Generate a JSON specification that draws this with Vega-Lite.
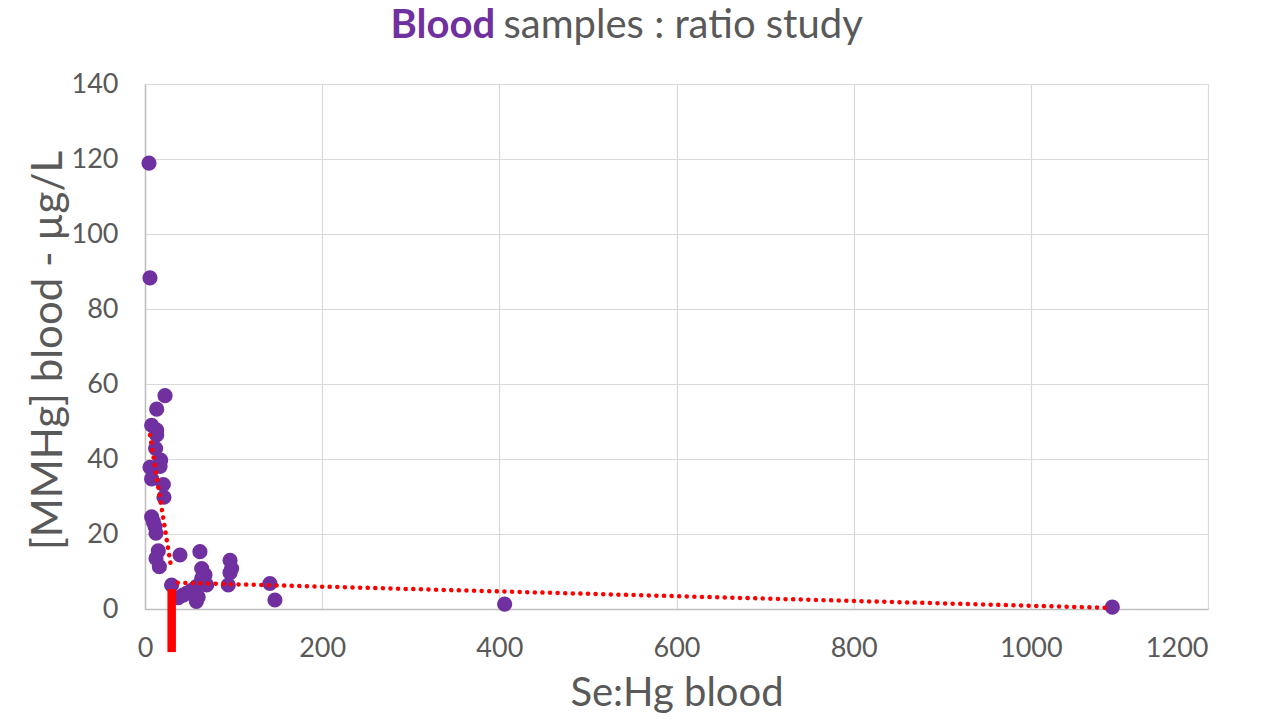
{
  "$schema": "https://vega.github.io/schema/vega-lite/v6.json",
  "width": 1063,
  "height": 525,
  "autosize": {"type": "none"},
  "padding": {"left": 145, "top": 84, "right": 58, "bottom": 112},
  "background": "white",
  "config": {
    "view": {"stroke": null},
    "axis": {"labelFont": "Lato", "titleFont": "Lato", "labelColor": "#595959", "titleColor": "#595959", "labelFontSize": 27, "titleFontSize": 40, "titleFontWeight": "normal", "gridColor": "#d9d9d9", "gridWidth": 1.2, "domainColor": "#bfbfbf", "domainWidth": 1.5, "ticks": false}
  },
  "datasets": {
    "samples": [
      {"ratio": 4.5, "mmhg": 118.9}, {"ratio": 5.6, "mmhg": 88.3}, {"ratio": 22.6, "mmhg": 56.9}, {"ratio": 13.2, "mmhg": 53.3},
      {"ratio": 7.5, "mmhg": 49.0}, {"ratio": 13.2, "mmhg": 47.7}, {"ratio": 13.2, "mmhg": 46.4}, {"ratio": 12.0, "mmhg": 42.8},
      {"ratio": 17.7, "mmhg": 39.7}, {"ratio": 17.0, "mmhg": 38.0}, {"ratio": 5.6, "mmhg": 37.8}, {"ratio": 7.5, "mmhg": 34.7},
      {"ratio": 20.7, "mmhg": 33.2}, {"ratio": 21.4, "mmhg": 29.8}, {"ratio": 7.5, "mmhg": 24.6}, {"ratio": 9.4, "mmhg": 23.3},
      {"ratio": 11.3, "mmhg": 22.0}, {"ratio": 12.4, "mmhg": 20.2}, {"ratio": 15.0, "mmhg": 15.5}, {"ratio": 12.4, "mmhg": 13.5},
      {"ratio": 16.2, "mmhg": 11.3}, {"ratio": 39.5, "mmhg": 14.4}, {"ratio": 62, "mmhg": 15.3}, {"ratio": 96, "mmhg": 13.0},
      {"ratio": 97.8, "mmhg": 10.8}, {"ratio": 96, "mmhg": 9.7}, {"ratio": 94, "mmhg": 6.4}, {"ratio": 64, "mmhg": 10.8},
      {"ratio": 67.7, "mmhg": 9.1}, {"ratio": 64, "mmhg": 8.2}, {"ratio": 30, "mmhg": 6.4}, {"ratio": 58, "mmhg": 6.0},
      {"ratio": 52.7, "mmhg": 5.0}, {"ratio": 37.6, "mmhg": 3.0}, {"ratio": 58, "mmhg": 2.0}, {"ratio": 43, "mmhg": 3.7},
      {"ratio": 54.5, "mmhg": 4.6}, {"ratio": 69.6, "mmhg": 6.4}, {"ratio": 64, "mmhg": 6.8}, {"ratio": 47, "mmhg": 4.2},
      {"ratio": 60, "mmhg": 3.2}, {"ratio": 141, "mmhg": 6.8}, {"ratio": 146.7, "mmhg": 2.4}, {"ratio": 406, "mmhg": 1.3},
      {"ratio": 1092, "mmhg": 0.5}
    ],
    "trend": [
      {"segment": "A", "ratio": 5.6, "mmhg": 46.4}, {"segment": "A", "ratio": 29.3, "mmhg": 11.4},
      {"segment": "B", "ratio": 36.9, "mmhg": 7.0}, {"segment": "B", "ratio": 1089, "mmhg": 0.3}
    ],
    "threshold": [
      {"ratio": 30.1, "top": 5.3, "bottom": -11.5}
    ]
  },
  "layer": [
    {
      "data": {"name": "samples"},
      "mark": {"type": "circle", "size": 230, "opacity": 1, "color": "#7030a0"},
      "encoding": {
        "x": {"field": "ratio", "type": "quantitative", "scale": {"domain": [0, 1200], "nice": false},
          "axis": {"orient": "bottom", "values": [0, 200, 400, 600, 800, 1000, 1200], "format": "d", "labelPadding": 47, "labelBaseline": "alphabetic", "labelFlush": false,
            "labelAlign": {"condition": {"test": "datum.value == 1200", "value": "right"}, "value": "center"},
            "title": "Se:Hg blood", "titleY": 96, "titleBaseline": "alphabetic"}},
        "y": {"field": "mmhg", "type": "quantitative", "scale": {"domain": [0, 140], "nice": false},
          "axis": {"orient": "left", "values": [0, 20, 40, 60, 80, 100, 120, 140], "labelPadding": 27, "title": "[MMHg] blood - µg/L", "titleFontSize": 42, "titleX": -84, "titleY": 266, "titleBaseline": "alphabetic"}}
      }
    },
    {
      "data": {"name": "trend"},
      "mark": {"type": "line", "color": "#ff0000", "strokeWidth": 4.5, "strokeDash": [0.1, 7.5], "strokeCap": "round"},
      "encoding": {
        "x": {"field": "ratio", "type": "quantitative",
          "axis": {"orient": "top", "labels": false, "ticks": false, "domain": false, "grid": false, "title": "samples : ratio study", "titleX": 358, "titleY": -47, "titleAlign": "left", "titleBaseline": "alphabetic", "titleFontSize": 40}},
        "y": {"field": "mmhg", "type": "quantitative",
          "axis": {"orient": "right", "labels": false, "ticks": false, "domain": false, "grid": false, "title": "Blood", "titleAngle": 0, "titleX": -818, "titleY": -47, "titleAlign": "left", "titleBaseline": "alphabetic", "titleFontWeight": "bold", "titleColor": "#7030a0", "titleFontSize": 40}},
        "detail": {"field": "segment"}
      }
    },
    {
      "data": {"name": "threshold"},
      "mark": {"type": "rule", "color": "#ff0000", "strokeWidth": 8.5, "clip": false},
      "encoding": {
        "x": {"field": "ratio", "type": "quantitative", "axis": null},
        "y": {"field": "top", "type": "quantitative", "axis": null},
        "y2": {"field": "bottom"}
      }
    }
  ],
  "resolve": {"axis": {"x": "independent", "y": "independent"}}
}
